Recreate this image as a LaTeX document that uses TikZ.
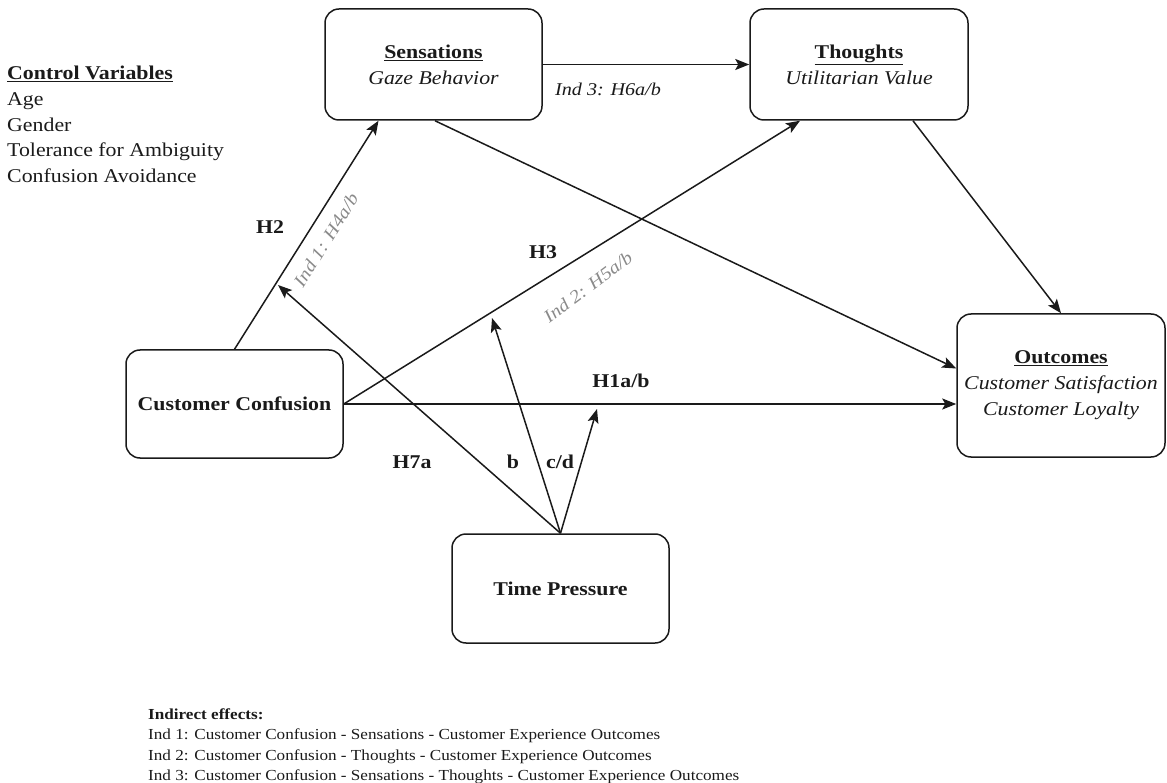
\documentclass[tikz,border=0pt]{standalone}
\usepackage{fontspec}
\setmainfont{Liberation Serif}[FakeStretch=1.12]
\usetikzlibrary{arrows.meta,calc}
\definecolor{ink}{HTML}{1A1A1A}
\definecolor{grayl}{HTML}{8A8A8A}
\begin{document}
\begin{tikzpicture}[x=1pt,y=-1pt,
  box/.style={draw=ink, line width=1.5pt, rounded corners=14pt, align=center, inner sep=0pt,
              font=\fontsize{19.5}{26}\selectfont, text=ink},
  conn/.style={draw=ink, line width=1.5pt, -{Stealth[length=14pt,width=11pt,inset=3pt]}},
  hlab/.style={font=\fontsize{19.5}{22}\selectfont\bfseries, text=ink, inner sep=0pt},
  glab/.style={font=\fontsize{18}{20}\selectfont\itshape, text=grayl, inner sep=0pt},
  dlab/.style={font=\fontsize{18}{20}\selectfont\itshape, text=ink, inner sep=0pt},
  ctrl/.style={font=\fontsize{19.5}{25.7}\selectfont, text=ink, align=left, inner sep=0pt},
  note/.style={font=\fontsize{15.3}{21}\selectfont, text=ink, anchor=base west, inner sep=0pt},
]
\useasboundingbox (0,0) rectangle (1167,783);

% boxes
\node[box, minimum width=217pt, minimum height=111pt] (sens) at (433.5,64.5)
  {\underline{\textbf{Sensations}}\\\textit{Gaze Behavior}};
\node[box, minimum width=218pt, minimum height=111pt] (thou) at (859,64.5)
  {\underline{\textbf{Thoughts}}\\\textit{Utilitarian Value}};
\node[box, minimum width=217pt, minimum height=108pt] (conf) at (234.5,404)
  {\textbf{Customer Confusion}};
\node[box, minimum width=217pt, minimum height=109pt] (time) at (560.5,588.5)
  {\textbf{Time Pressure}};
\node[box, minimum width=208pt, minimum height=143pt] (outc) at (1061,385.5)
  {\underline{\textbf{Outcomes}}\\\textit{Customer Satisfaction}\\\textit{Customer Loyalty}};

% control variables
\node[ctrl, anchor=north west] (ctrlv) at (7,66)
  {\underline{\textbf{Control Variables}}\\Age\\Gender\\Tolerance for Ambiguity\\Confusion Avoidance};

% connectors
\draw[conn] (sens.east) -- (thou.west);
\draw[conn] (conf.north) -- ($(sens.south)+(-55,0)$);
\draw[conn] (conf.east) -- ($(thou.south)+(-59,0)$);
\draw[conn] (conf.east) -- (conf.east -| outc.west);
\draw[conn] ($(sens.south)+(1.5,0)$) -- ($(outc.west)+(0,-17)$);
\draw[conn] ($(thou.south)+(54,0)$) -- (outc.north);

\coordinate (tipA) at (278,285);
\coordinate (tipB) at (492,318);
\coordinate (tipC) at (597,409);
\draw[conn] (time.north) -- (tipA);
\draw[conn] (time.north) -- (tipB);
\draw[conn] (time.north) -- (tipC);

% labels
\node[dlab] (l6) at (608,89) {Ind 3: H6a/b};
\node[hlab] (lh2) at (270,227) {H2};
\node[glab, rotate=58] (l4) at (326,240) {Ind 1: H4a/b};
\node[hlab] (lh3) at (543,252) {H3};
\node[glab, rotate=37] (l5) at (588,287) {Ind 2: H5a/b};
\node[hlab] (lh1) at (621,381) {H1a/b};
\node[hlab] (lh7) at (412,462) {H7a};
\node[hlab] (lb) at (513,462) {b};
\node[hlab] (lcd) at (560,462) {c/d};

% indirect effects
\node[note] (n0) at (148,719) {\textbf{Indirect effects:}};
\node[note] (n1) at (148,739.5) {Ind 1: Customer Confusion - Sensations - Customer Experience Outcomes};
\node[note] (n2) at (148,760) {Ind 2: Customer Confusion - Thoughts - Customer Experience Outcomes};
\node[note] (n3) at (148,780) {Ind 3: Customer Confusion - Sensations - Thoughts - Customer Experience Outcomes};
\end{tikzpicture}
\end{document}
